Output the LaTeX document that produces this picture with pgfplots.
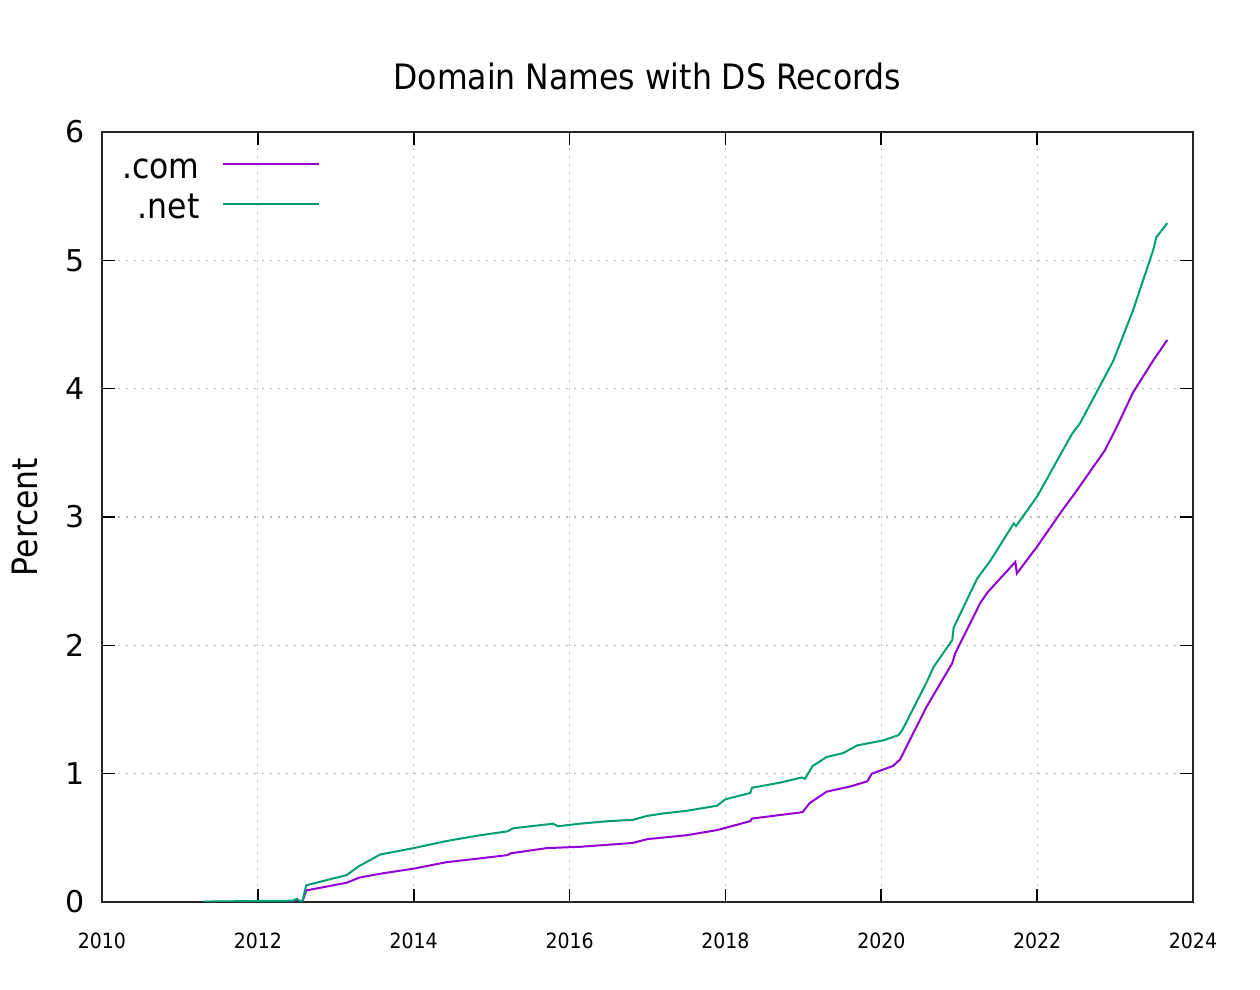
\documentclass[border=0pt]{standalone}
\usepackage{fontspec}
\setmainfont{DejaVu Sans Condensed}
\newfontfamily\regfont{DejaVu Sans}
\usepackage{pgfplots}
\pgfplotsset{compat=1.18}
\definecolor{comcol}{RGB}{148,0,211}
\definecolor{netcol}{RGB}{0,158,115}
\begin{document}
\begin{tikzpicture}
\useasboundingbox (-51pt,-44pt) rectangle (579pt,451pt);
\begin{axis}[
  at={(0,0)}, anchor=south west,
  scale only axis, width=545.5pt, height=385pt,
  xmin=2010, xmax=2024, ymin=0, ymax=6,
  xtick={2010,2012,...,2024}, minor x tick num=7,
  ytick={0,1,...,6},
  /pgf/number format/assume math mode=true,
  xticklabel style={/pgf/number format/1000 sep=, font=\fontsize{10.5pt}{12pt}\selectfont, yshift=-12pt},
  yticklabel style={font=\regfont\fontsize{15pt}{18pt}\selectfont, xshift=-5pt},
  tick align=inside,
  major tick length=6.5pt, minor tick length=3.5pt,
  tick style={black, line width=0.8pt},
  axis line style={black!85, line width=1pt},
  xmajorgrids, ymajorgrids,
  grid style={gray!55, line width=0.6pt, dash pattern=on 1pt off 3pt},
  title={Domain Names with DS Records},
  title style={font=\fontsize{17.5pt}{20pt}\selectfont, at={(0.5,1)}, anchor=center, yshift=22pt},
  ylabel={Percent},
  ylabel style={font=\fontsize{17.5pt}{20pt}\selectfont, at={(axis description cs:-0.0706,0.5)}, anchor=center, rotate=0},
  legend plot pos=right,
  legend cell align=right,
  legend image code/.code={\draw[#1] (0pt,0.3em) -- (48pt,0.3em);},
  legend style={draw=none, fill=none, inner sep=0pt, at={(axis description cs:0,1)}, anchor=north east, xshift=109pt, yshift=-11pt,
    font=\fontsize{17.5pt}{20pt}\selectfont, row sep=4pt, column sep=11pt,
    nodes={inner sep=0pt, text height=12pt, text depth=4pt}},
]
\addplot[comcol, line width=1pt] coordinates {
(2011.3,0.0) (2012.45,0.005) (2012.5,0.02) (2012.53,0.01) (2012.57,0.0)
(2012.62,0.09) (2013.14,0.15) (2013.3,0.19) (2013.57,0.22) (2014.0,0.26)
(2014.42,0.31) (2014.85,0.34) (2015.2,0.365) (2015.25,0.38) (2015.71,0.42)
(2016.13,0.43) (2016.81,0.46) (2017.0,0.49) (2017.5,0.52) (2017.89,0.56)
(2018.32,0.63) (2018.34,0.65) (2018.99,0.70) (2019.08,0.77) (2019.3,0.86)
(2019.6,0.90) (2019.82,0.94) (2019.88,1.00) (2020.15,1.06) (2020.24,1.11)
(2020.58,1.52) (2020.91,1.86) (2020.95,1.94) (2021.27,2.33) (2021.36,2.41)
(2021.72,2.65) (2021.74,2.56) (2022.0,2.77) (2022.32,3.05) (2022.49,3.19)
(2022.87,3.52) (2023.02,3.70) (2023.23,3.97) (2023.49,4.22) (2023.67,4.38)
};
\addlegendentry{.com}
\addplot[netcol, line width=1pt] coordinates {
(2011.3,0.003) (2012.0,0.008) (2012.45,0.01) (2012.5,0.025) (2012.53,0.01) (2012.57,0.0)
(2012.62,0.13) (2013.14,0.21) (2013.3,0.28) (2013.57,0.37) (2014.0,0.42)
(2014.42,0.475) (2014.85,0.52) (2015.2,0.55) (2015.28,0.575) (2015.79,0.61)
(2015.85,0.59) (2016.13,0.61) (2016.5,0.63) (2016.81,0.64) (2016.99,0.67)
(2017.2,0.69) (2017.5,0.71) (2017.89,0.75) (2018.0,0.80) (2018.32,0.85)
(2018.34,0.89) (2018.7,0.93) (2018.98,0.97) (2019.02,0.96) (2019.12,1.06)
(2019.3,1.13) (2019.51,1.16) (2019.69,1.22) (2020.03,1.26) (2020.22,1.30)
(2020.27,1.34) (2020.58,1.71) (2020.67,1.83) (2020.91,2.04) (2020.93,2.14)
(2021.23,2.52) (2021.4,2.66) (2021.7,2.95) (2021.73,2.93) (2022.0,3.16)
(2022.33,3.52) (2022.45,3.65) (2022.55,3.73) (2022.98,4.22) (2023.23,4.61)
(2023.49,5.08) (2023.53,5.18) (2023.67,5.29)
};
\addlegendentry{.net}
\end{axis}
\end{tikzpicture}
\end{document}
